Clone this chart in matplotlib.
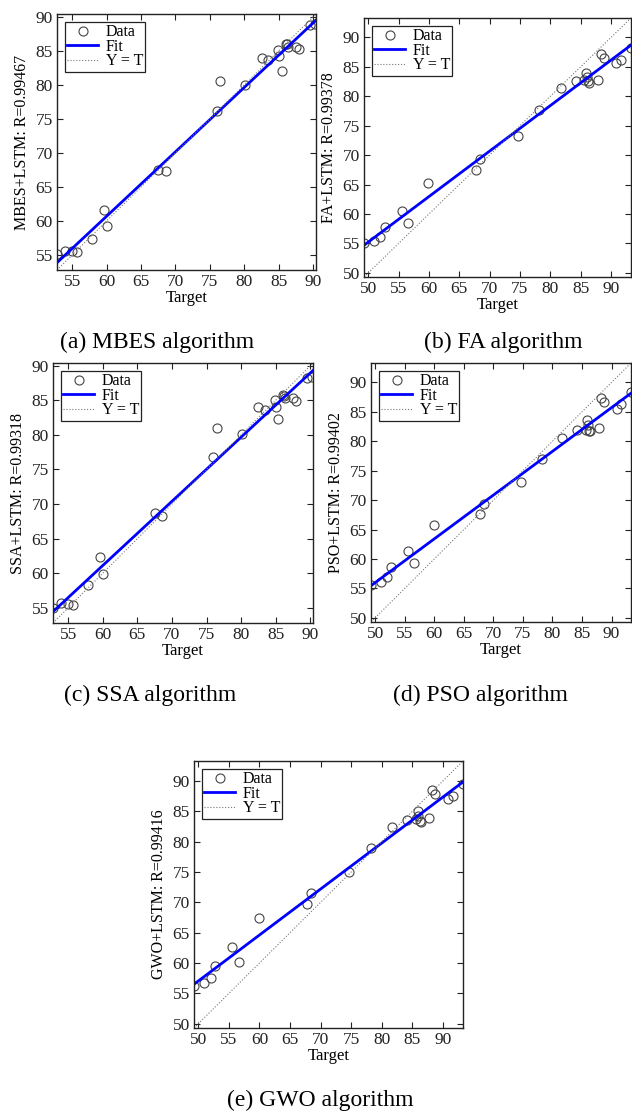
import numpy as np
import matplotlib
matplotlib.use('Agg')
import matplotlib.pyplot as plt

plt.rcParams['font.family'] = ['Liberation Serif', 'DejaVu Serif']

# Targets (shared test sets)
target_ac = [52.8, 53.9, 55.0, 55.7, 57.9, 59.6, 60.1, 67.5, 68.6, 76.0, 76.5, 80.1,
             82.5, 83.4, 84.9, 85.1, 85.4, 86.0, 86.2, 86.4, 87.5, 87.9, 89.6, 90.3]
target_bde = [49.3, 51.0, 52.0, 52.7, 55.5, 56.6, 59.9, 67.8, 68.4, 74.7, 78.2, 81.7,
              84.2, 85.6, 85.9, 86.0, 86.2, 86.4, 87.8, 88.3, 88.8, 90.9, 91.6, 93.3]

# Model outputs
out_mbes = [55.1, 55.6, 55.6, 55.5, 57.4, 61.6, 59.2, 67.5, 67.3, 76.1, 80.5, 80.0,
            84.0, 83.6, 85.1, 84.2, 82.1, 86.0, 86.0, 85.5, 85.6, 85.2, 88.8, 89.0]
out_fa = [55.0, 55.4, 56.1, 57.8, 60.5, 58.4, 65.3, 67.4, 69.3, 73.2, 77.6, 81.4,
          82.6, 82.7, 84.0, 83.3, 82.6, 82.3, 82.8, 87.2, 86.5, 85.6, 86.2, 88.2]
out_ssa = [55.0, 55.7, 55.6, 55.4, 58.3, 62.3, 59.9, 68.7, 68.3, 76.8, 81.0, 80.2,
           84.0, 83.6, 85.0, 84.0, 82.3, 85.8, 85.6, 85.3, 85.4, 84.9, 88.3, 88.4]
out_pso = [55.6, 56.1, 57.0, 58.7, 61.3, 59.3, 65.7, 67.7, 69.4, 73.0, 77.0, 80.6,
           81.9, 82.0, 83.6, 82.8, 81.8, 81.8, 82.3, 87.4, 86.6, 85.5, 86.3, 88.3]
out_gwo = [56.2, 56.7, 57.6, 59.5, 62.6, 60.1, 67.5, 69.8, 71.5, 75.0, 79.0, 82.4,
           83.6, 83.7, 85.1, 84.3, 83.4, 83.3, 83.9, 88.6, 87.8, 87.0, 87.6, 89.5]

ylabels = ['MBES+LSTM: R=0.99467', 'FA+LSTM: R=0.99378', 'SSA+LSTM: R=0.99318',
           'PSO+LSTM: R=0.99402', 'GWO+LSTM: R=0.99416']
captions = ['(a) MBES algorithm', '(b) FA algorithm', '(c) SSA algorithm',
            '(d) PSO algorithm', '(e) GWO algorithm']
lims_ac = (52.8, 90.4)
lims_bde = (49.3, 93.3)

W, H = 632, 1115
fig = plt.figure(figsize=(W / 100, H / 100), dpi=100)

# panel boxes in pixels: left, right, top, bottom
boxes = [(57, 316, 14, 270), (364, 631, 18, 277), (53, 313, 363, 623),
         (371, 631, 363, 622), (194, 463, 761, 1028)]
caption_pos = [(157, 342), (503, 342), (150, 695), (480, 695), (320, 1100)]

panels = [(target_ac, out_mbes, lims_ac, [55, 60, 65, 70, 75, 80, 85, 90]),
          (target_bde, out_fa, lims_bde, [50, 55, 60, 65, 70, 75, 80, 85, 90]),
          (target_ac, out_ssa, lims_ac, [55, 60, 65, 70, 75, 80, 85, 90]),
          (target_bde, out_pso, lims_bde, [50, 55, 60, 65, 70, 75, 80, 85, 90]),
          (target_bde, out_gwo, lims_bde, [50, 55, 60, 65, 70, 75, 80, 85, 90])]

for i, (t, y, lims, ticks) in enumerate(panels):
    l, r, top, b = boxes[i]
    ax = fig.add_axes([l / W, 1 - b / H, (r - l) / W, (b - top) / H])
    t = np.array(t)
    y = np.array(y)
    xs = np.array(lims)
    k, c0 = np.polyfit(t, y, 1)
    ax.plot(t, y, 'o', mfc='none', mec='#444444', ms=6.5, mew=0.8, label='Data')
    ax.plot(xs, k * xs + c0, color='#0000ff', lw=2, label='Fit')
    ax.plot(xs, xs, ':', color='#777777', lw=0.8, label='Y = T')
    ax.set_xlim(lims)
    ax.set_ylim(lims)
    ax.set_xticks(ticks)
    ax.set_yticks(ticks)
    ax.tick_params(direction='in', top=True, right=True, labelsize=12.5,
                   length=4, width=0.8, colors='#222222', pad=3)
    for s in ax.spines.values():
        s.set_linewidth(1.0)
        s.set_color('#222222')
    ax.set_xlabel('Target', fontsize=12, labelpad=0)
    ax.set_ylabel(ylabels[i], fontsize=11.5, labelpad=4)
    leg = ax.legend(loc='upper left', fontsize=11.5, frameon=True, fancybox=False,
                    edgecolor='#222222', framealpha=1, borderpad=0.15,
                    labelspacing=-0.1, handlelength=1.9, handletextpad=0.5,
                    borderaxespad=0.5)
    leg.get_frame().set_linewidth(0.9)
    cx, cy = caption_pos[i]
    fig.text(cx / W, 1 - cy / H, captions[i], fontsize=17, ha='center', va='center')

fig.savefig('out.png', dpi=100)
